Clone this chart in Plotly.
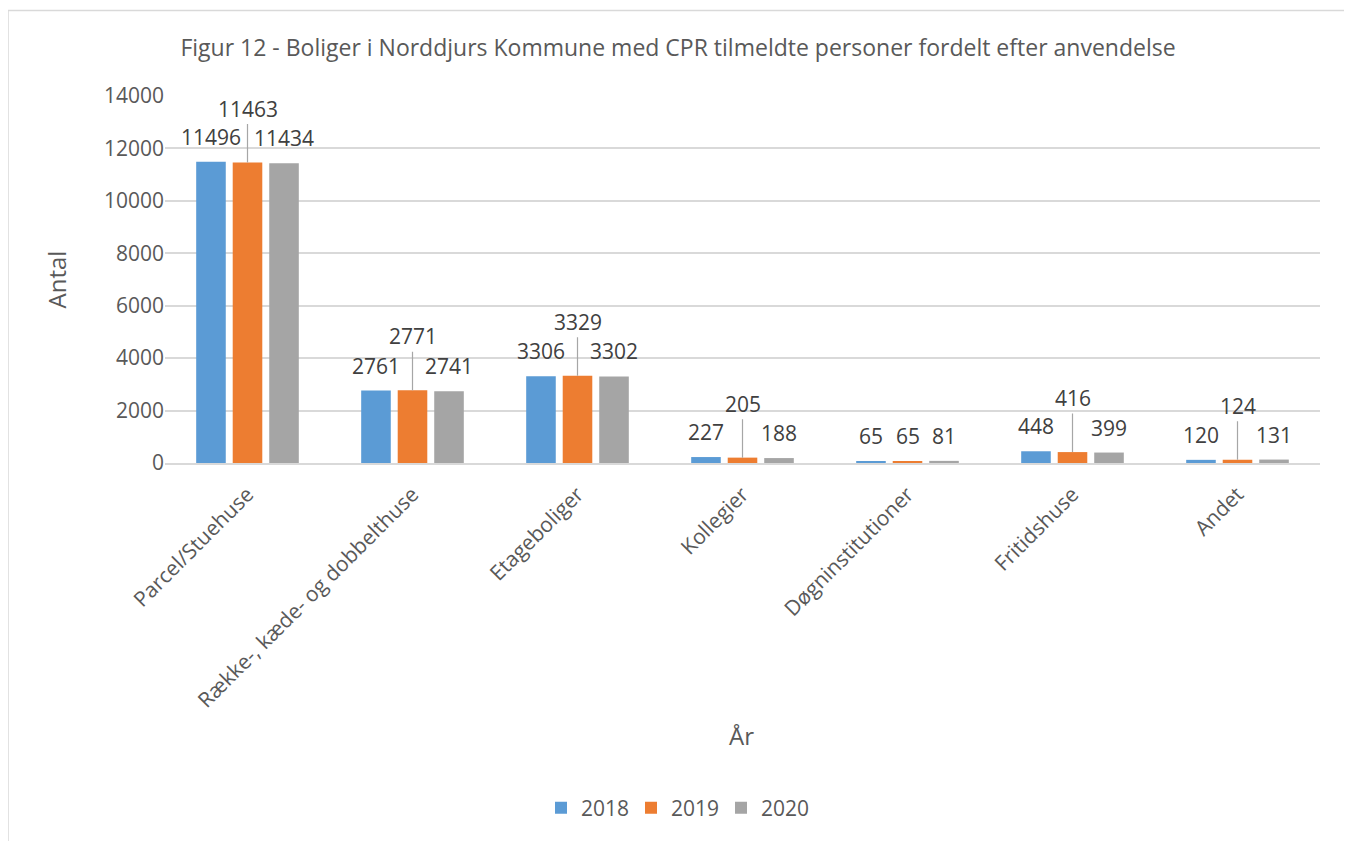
import plotly.graph_objects as go

categories = ["Parcel/Stuehuse", "Række-, kæde- og dobbelthuse", "Etageboliger", "Kollegier",
              "Døgninstitutioner", "Fritidshuse", "Andet"]
years = ["2018", "2019", "2020"]
values_2018 = [11496, 2761, 3306, 227, 65, 448, 120]
values_2019 = [11463, 2771, 3329, 205, 65, 416, 124]
values_2020 = [11434, 2741, 3302, 188, 81, 399, 131]

series = [values_2018, values_2019, values_2020]
colors = ["#5b9bd5", "#ed7d31", "#a5a5a5"]

FONT = "Open Sans, Segoe UI, sans-serif"
TXT = "#595959"
LBL = "#404040"

# page has an 8px body margin, so figure px = screen px - 8
OFF = 8
W, H = 1344, 833
L, T = 165 - OFF, 96 - OFF
R = W - (1320 - OFF)
B = H - (465 - OFF)
pw, ph = W - L - R, H - T - B


def px_x(p):
    return (p - OFF - L) / pw


def px_y(p):
    return (H - B - (p - OFF)) / ph


fig = go.Figure()
for name, vals, col in zip(years, series, colors):
    fig.add_trace(go.Bar(x=categories, y=vals, name=name, marker=dict(color=col, line=dict(width=0))))

# data labels: 2018 left, 2020 right, 2019 raised with a leader line when labels would collide
slot = 36.5
for i, cat in enumerate(categories):
    for vals, shift in ((values_2018, -slot), (values_2020, slot)):
        fig.add_annotation(x=cat, y=vals[i], text=str(vals[i]), showarrow=False,
                           xshift=shift, yshift=25, yanchor="middle",
                           font=dict(family=FONT, size=21, color=LBL))
    v = values_2019[i]
    crowded = max(len(str(s[i])) for s in series) > 2
    if crowded:
        fig.add_annotation(x=cat, y=v, text=str(v), showarrow=True,
                           arrowhead=0, arrowwidth=1.2, arrowcolor="#a6a6a6", ax=0, ay=-54,
                           standoff=0, font=dict(family=FONT, size=21, color=LBL))
    else:
        fig.add_annotation(x=cat, y=v, text=str(v), showarrow=False, yshift=25, yanchor="middle",
                           font=dict(family=FONT, size=21, color=LBL))

# axis titles
fig.add_annotation(xref="paper", yref="paper", x=px_x(56.5), y=px_y(281), text="Antal",
                   xanchor="center", yanchor="middle", textangle=-90, showarrow=False,
                   font=dict(family=FONT, size=24, color=TXT))
fig.add_annotation(xref="paper", yref="paper", x=px_x(741), y=px_y(739), text="År",
                   xanchor="center", yanchor="middle", showarrow=False,
                   font=dict(family=FONT, size=24, color=TXT))

# chart area border
fig.add_shape(type="rect", xref="paper", yref="paper", x0=px_x(8), x1=px_x(1349),
              y0=px_y(860), y1=px_y(10), line=dict(color="#d9d9d9", width=1.5), layer="below")

fig.update_layout(
    width=W, height=H,
    margin=dict(l=L, r=R, t=T, b=B),
    paper_bgcolor="white", plot_bgcolor="white",
    barmode="group", bargap=0.336, bargroupgap=0.19,
    font=dict(family=FONT, size=21, color=TXT),
    title=dict(text="Figur 12 - Boliger i Norddjurs Kommune med CPR tilmeldte personer fordelt efter anvendelse",
               x=(678 - OFF) / W, xanchor="center", xref="container", y=1 - (48 - OFF) / H, yanchor="middle",
               font=dict(family=FONT, size=23, color=TXT)),
    legend=dict(orientation="h", x=px_x(676), xanchor="center", y=px_y(812), yanchor="middle",
                font=dict(family=FONT, size=21, color=TXT), itemwidth=30,
                entrywidth=45, entrywidthmode="pixels"),
    showlegend=True,
)
fig.update_yaxes(range=[0, 14000], dtick=2000, tickformat="d", showgrid=True, gridcolor="#d9d9d9",
                 gridwidth=1.5, zeroline=False, showline=False, ticks="",
                 tickfont=dict(family=FONT, size=21, color=TXT))
fig.update_xaxes(showgrid=False, showline=True, linecolor="#d9d9d9", linewidth=1.5,
                 ticks="outside", ticklen=9, tickcolor="rgba(0,0,0,0)",
                 tickangle=-45, tickfont=dict(family=FONT, size=21, color=TXT))

fig.write_html("out.html")
